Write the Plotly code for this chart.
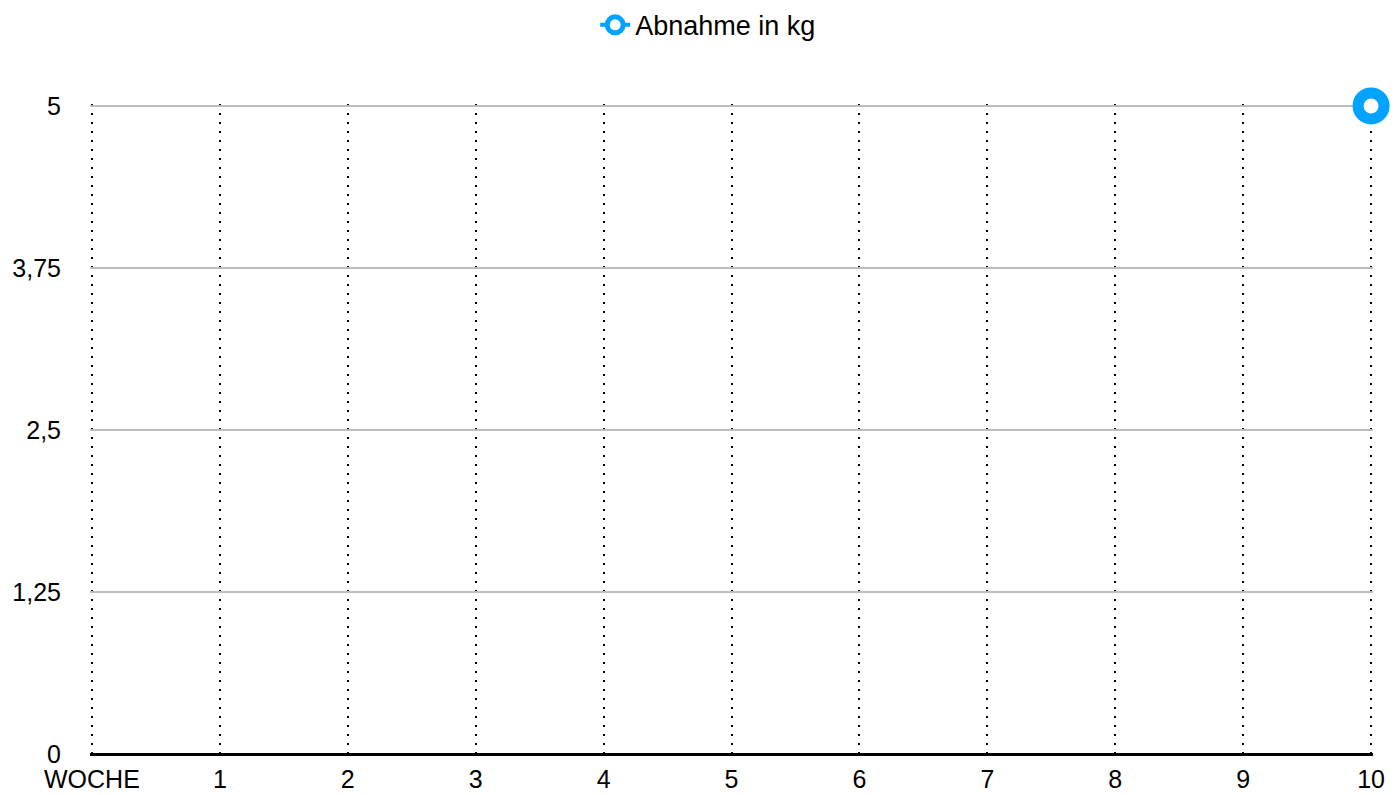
import plotly.graph_objects as go

x_labels = ["WOCHE", "1", "2", "3", "4", "5", "6", "7", "8", "9", "10"]
x_pos = list(range(len(x_labels)))
series_name = "Abnahme in kg"
point_x = [10]
point_y = [5]
y_ticks = [0, 1.25, 2.5, 3.75, 5]
y_ticklabels = ["0", "1,25", "2,5", "3,75", "5"]

blue = "#00A3FF"
font_family = "Liberation Sans, Arial, Helvetica, sans-serif"

fig = go.Figure()
fig.add_trace(go.Scatter(
    x=point_x, y=point_y, name=series_name, mode="lines+markers",
    line=dict(color=blue, width=4),
    marker=dict(size=26, color="white", line=dict(color=blue, width=11)),
    cliponaxis=False, showlegend=True,
))

fig.update_layout(
    width=1392, height=787,
    margin=dict(l=82, r=27, t=96, b=41),
    paper_bgcolor="white", plot_bgcolor="white",
    font=dict(family=font_family, size=25, color="#000000"),
    showlegend=True,
    legend=dict(orientation="h", xref="container", x=0.503, xanchor="center",
                yref="container", y=0.978, yanchor="middle",
                font=dict(size=27), bgcolor="rgba(0,0,0,0)"),
    xaxis=dict(range=[-0.015, 10.015], tickmode="array", tickvals=x_pos, ticktext=x_labels,
               showgrid=True, gridcolor="black", gridwidth=2, griddash="2px,7px",
               zeroline=False, showline=False, ticks="", ticklabelstandoff=8,
               automargin=False),
    yaxis=dict(range=[0, 5.015], tickmode="array", tickvals=y_ticks, ticktext=y_ticklabels,
               showgrid=True, gridcolor="#BDBDBD", gridwidth=2,
               zeroline=True, zerolinecolor="black", zerolinewidth=3,
               showline=False, ticks="", ticklabelstandoff=28,
               automargin=False),
)

fig.write_html("out.html")
